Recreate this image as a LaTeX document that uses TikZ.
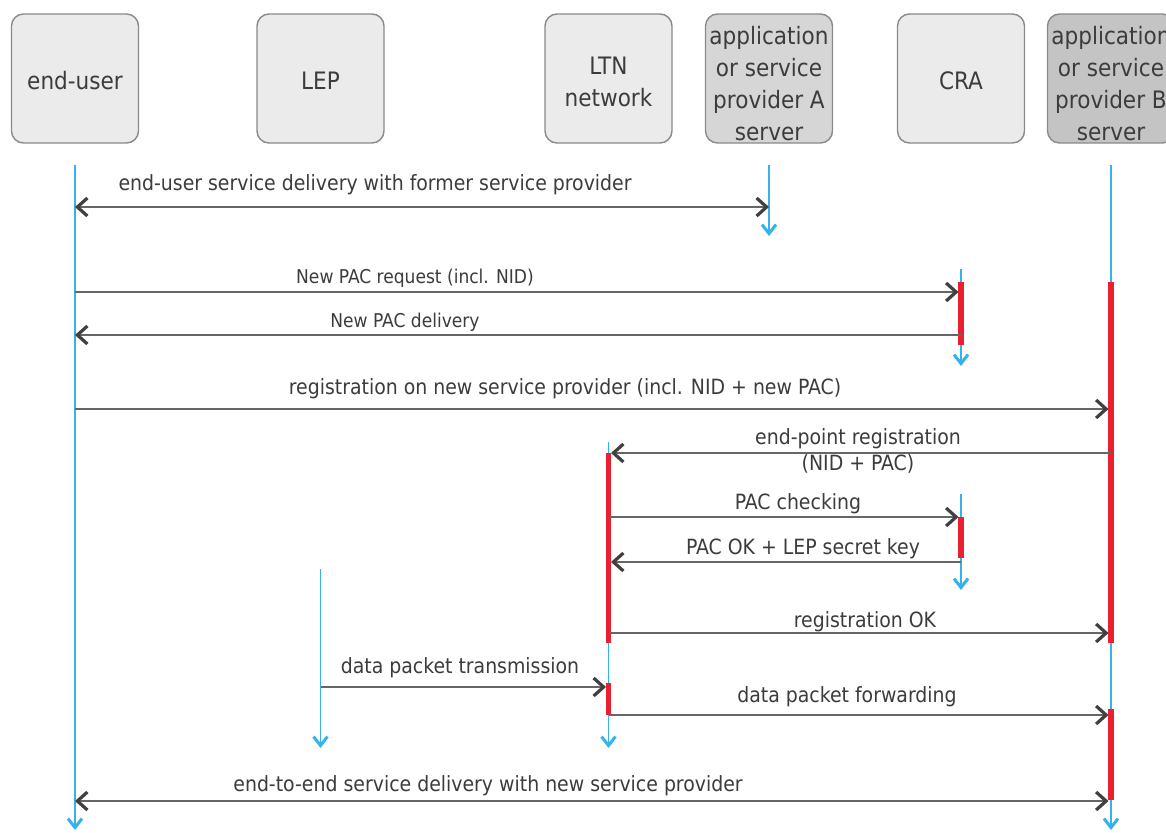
\documentclass[tikz,border=0pt]{standalone}
\usepackage{fontspec}
\setmainfont{DejaVu Sans Condensed}
\usetikzlibrary{arrows.meta}
\definecolor{boxfill}{HTML}{EBEBEB}
\definecolor{boxfillA}{HTML}{D6D6D6}
\definecolor{boxfillB}{HTML}{C4C4C4}
\definecolor{boxline}{HTML}{8A8A8A}
\definecolor{txt}{HTML}{3C3C3C}
\definecolor{lifeblue}{HTML}{35B2EC}
\definecolor{actred}{HTML}{EA2030}
\definecolor{msggray}{HTML}{666666}
\definecolor{tipgray}{HTML}{404040}
\begin{document}
\begin{tikzpicture}[x=1pt,y=-1pt,
  actor/.style={draw=boxline, line width=1.4pt, rounded corners=12pt, fill=boxfill,
    minimum width=127pt, minimum height=129pt, inner sep=0pt},
  atext/.style={text=txt, inner sep=0pt, font=\fontsize{24}{32}\selectfont, align=center},
  life/.style={draw=lifeblue, line width=1.8pt,
    -{Straight Barb[length=9pt,width=14pt,line width=3pt]}},
  act/.style={draw=actred, line width=5.5pt},
  msg/.style={draw=msggray, line width=1.5pt, -{Straight Barb[length=10pt,width=18pt,line width=3.2pt,color=tipgray]}},
  dmsg/.style={draw=msggray, line width=1.5pt,
    {Straight Barb[length=10pt,width=18pt,line width=3.2pt,color=tipgray]}-{Straight Barb[length=10pt,width=18pt,line width=3.2pt,color=tipgray]}},
  lbl/.style={text=txt, font=\fontsize{21}{25}\selectfont, anchor=mid, inner sep=0pt},
  slbl/.style={text=txt, font=\fontsize{19}{23}\selectfont, anchor=mid, inner sep=0pt}
]
\useasboundingbox (0,0) rectangle (1166,832);
\fill[white] (0,0) rectangle (1166,832);

% actors
\node[actor] (eu)  at (75,78.5)  {};
\node[actor] (lep) at (320.5,78.5) {};
\node[actor] (ltn) at (608.5,78.5) {};
\node[actor, fill=boxfillA] (spa) at (769,78.5) {};
\node[actor] (cra) at (961,78.5) {};
\node[actor, fill=boxfillB] (spb) at (1111,78.5) {};
\node[atext] (eu-t)  at ([yshift=-2pt]eu.center)  {end-user};
\node[atext] (lep-t) at ([yshift=-2pt]lep.center) {LEP};
\node[atext] (ltn-t) at ([yshift=-3pt]ltn.center) {LTN\\network};
\node[atext] (spa-t) at ([yshift=-5pt]spa.center) {application\\or service\\provider A\\server};
\node[atext] (cra-t) at ([yshift=-2pt]cra.center) {CRA};
\node[atext] (spb-t) at ([yshift=-5pt]spb.center) {application\\or service\\provider B\\server};

% lifelines
\draw[life] (eu  |- 0,165) -- (eu  |- 0,830);
\draw[life] (spa |- 0,165) -- (spa |- 0,236);
\draw[life] (spb |- 0,165) -- (spb |- 0,830);
\draw[life] (cra |- 0,269) -- (cra |- 0,366);
\draw[life] (cra |- 0,494) -- (cra |- 0,590);
\draw[life] (ltn |- 0,442) -- (ltn |- 0,748);
\draw[life] (lep |- 0,569) -- (lep |- 0,748);

% activations
\draw[act] (cra |- 0,282) -- (cra |- 0,345);
\draw[act] (spb |- 0,282) -- (spb |- 0,643);
\draw[act] (ltn |- 0,453) -- (ltn |- 0,643);
\draw[act] (cra |- 0,517) -- (cra |- 0,558);
\draw[act] (ltn |- 0,683) -- (ltn |- 0,715);
\draw[act] (spb |- 0,709) -- (spb |- 0,800);

% messages
\draw[dmsg] (eu |- 0,207) -- (spa |- 0,207);
\node[lbl] (m1) at (375,188) {end-user service delivery with former service provider};

\draw[msg, shorten >=2.5pt] (eu |- 0,292) -- (cra |- 0,292);
\node[slbl] (m2) at (415,281) {New PAC request (incl. NID)};

\draw[msg] (cra |- 0,335) -- (eu |- 0,335);
\node[slbl] (m3) at (405,325) {New PAC delivery};

\draw[msg, shorten >=2.5pt] (eu |- 0,409) -- (spb |- 0,409);
\node[lbl] (m4) at (565,392) {registration on new service provider (incl. NID + new PAC)};

\draw[msg, shorten >=2.5pt] (spb |- 0,453) -- (ltn |- 0,453);
\node[lbl] (m5a) at (858,442) {end-point registration};
\node[lbl] (m5b) at (858,468) {(NID + PAC)};

\draw[msg, shorten >=2.5pt] (ltn |- 0,517) -- (cra |- 0,517);
\node[lbl] (m6) at (798,507) {PAC checking};

\draw[msg, shorten >=2.5pt] (cra |- 0,562) -- (ltn |- 0,562);
\node[lbl] (m7) at (803,552) {PAC OK + LEP secret key};

\draw[msg, shorten >=2.5pt] (ltn |- 0,633) -- (spb |- 0,633);
\node[lbl] (m8) at (865,625) {registration OK};

\draw[msg, shorten >=2.5pt] (lep |- 0,687) -- (ltn |- 0,687);
\node[lbl] (m9) at (460,671) {data packet transmission};

\draw[msg, shorten >=2.5pt] (ltn |- 0,715) -- (spb |- 0,715);
\node[lbl] (m10) at (847,700) {data packet forwarding};

\draw[dmsg, shorten >=2.5pt] (eu |- 0,801) -- (spb |- 0,801);
\node[lbl] (m11) at (488,789) {end-to-end service delivery with new service provider};
\end{tikzpicture}
\end{document}
